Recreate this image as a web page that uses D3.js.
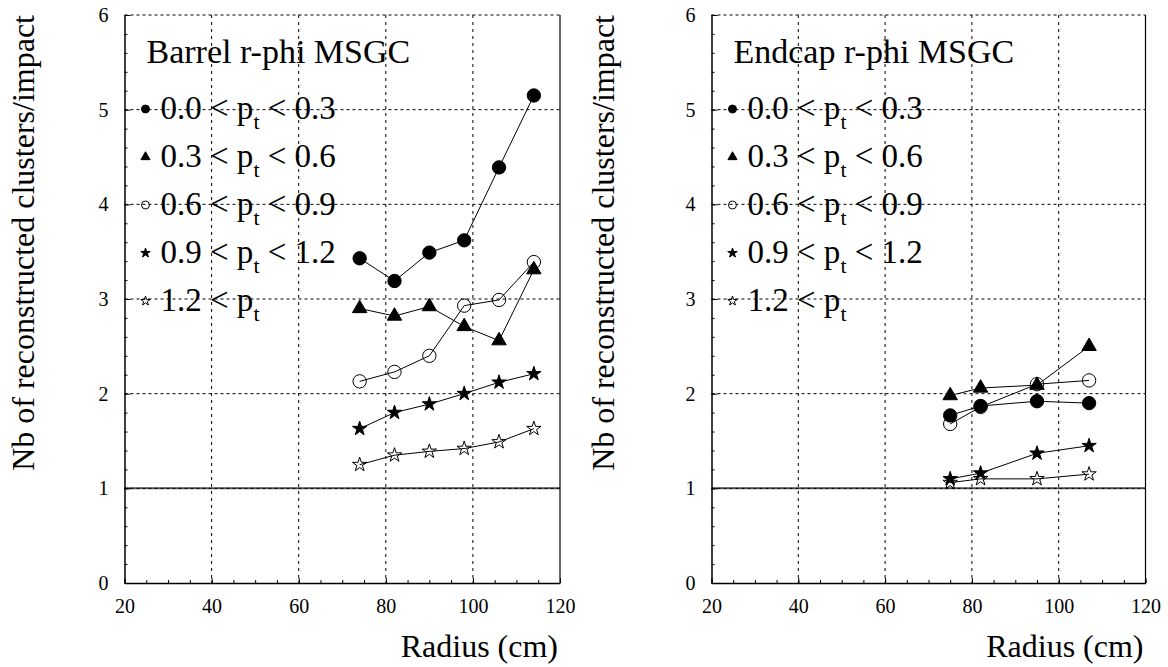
<!DOCTYPE html>
<html>
<head>
<meta charset="utf-8">
<script src="https://cdn.jsdelivr.net/npm/d3@7"></script>
<style>
  body { margin: 0; background: #fff; }
  svg text { font-family: "Liberation Serif", "Times New Roman", serif; fill: #000; }
</style>
</head>
<body>
<script>
const w = 1168; // width
const h = 667;  // height

// data
const radiusBarrel = [74, 82, 90, 98, 106, 114];
const barrelPt00 = [3.43, 3.19, 3.49, 3.62, 4.39, 5.15];
const barrelPt03 = [2.90, 2.82, 2.92, 2.71, 2.56, 3.31];
const barrelPt06 = [2.13, 2.23, 2.40, 2.93, 2.99, 3.39];
const barrelPt09 = [1.63, 1.80, 1.89, 2.00, 2.12, 2.21];
const barrelPt12 = [1.25, 1.35, 1.39, 1.42, 1.49, 1.63];

const radiusEndcap = [75, 82, 95, 107];
const endcapPt00 = [1.77, 1.87, 1.92, 1.90];
const endcapPt03 = [1.98, 2.06, 2.09, 2.50];
const endcapPt06 = [1.68, 1.86, 2.10, 2.14];
const endcapPt09 = [1.10, 1.16, 1.37, 1.45];
const endcapPt12 = [1.06, 1.10, 1.10, 1.15];

const legendLow = ["0.0", "0.3", "0.6", "0.9", "1.2"];
const legendHigh = ["0.3", "0.6", "0.9", "1.2", null];
const xTicks = [20, 40, 60, 80, 100, 120];
const yTicks = [0, 1, 2, 3, 4, 5, 6];

// marker look per series
const markers = [
    {type: d3.symbolCircle, size: 140, legend: 50, fill: "#000"},
    {type: d3.symbolTriangle, size: 90, legend: 36, fill: "#000"},
    {type: d3.symbolCircle, size: 140, legend: 50, fill: "none"},
    {type: d3.symbolStar, size: 64, legend: 28, fill: "#000"},
    {type: d3.symbolStar, size: 64, legend: 28, fill: "none"}
];

const serif = '"Liberation Serif", "Times New Roman", serif';
const yTop = 15, yBottom = 583;

let svg = d3.select("body")
    .append("svg")
    .attr("width", w)
    .attr("height", h);

svg.append("rect").attr("width", w).attr("height", h).attr("fill", "#fff");

function drawPanel(left, right, title, radius, series, yTitleX) {
    let x = d3.scaleLinear().domain([20, 120]).range([left, right]);
    let y = d3.scaleLinear().domain([0, 6]).range([yBottom, yTop]);
    let g = svg.append("g").attr("font-family", serif);

    // grid, vertical dotted
    g.selectAll(".vgrid")
        .data(xTicks.slice(1, -1))
        .enter().append("line")
        .attr("x1", d => x(d)).attr("x2", d => x(d))
        .attr("y1", yTop).attr("y2", yBottom)
        .attr("stroke", "#000").attr("stroke-width", 1)
        .attr("stroke-dasharray", "3,4");

    // line at 1
    g.append("line")
        .attr("x1", left).attr("x2", right)
        .attr("y1", y(1)).attr("y2", y(1))
        .attr("stroke", "#555").attr("stroke-width", 2);

    // grid, horizontal dashed
    g.selectAll(".hgrid")
        .data(yTicks.slice(1))
        .enter().append("line")
        .attr("x1", left).attr("x2", right)
        .attr("y1", d => y(d)).attr("y2", d => y(d))
        .attr("stroke", "#000").attr("stroke-width", 1)
        .attr("stroke-dasharray", "3,3");

    // right border
    g.append("line")
        .attr("x1", right).attr("x2", right)
        .attr("y1", yTop).attr("y2", yBottom)
        .attr("stroke", "#000").attr("stroke-width", 1.2);

    // x axis, minor ticks
    g.append("g")
        .attr("transform", `translate(0,${yBottom})`)
        .call(d3.axisBottom(x).tickValues(d3.range(20, 121, 5)).tickSize(-3).tickFormat(""))
        .call(a => a.select(".domain").remove());
    // x axis, major
    g.append("g")
        .attr("transform", `translate(0,${yBottom})`)
        .call(d3.axisBottom(x).tickValues(xTicks).tickFormat(d3.format("d"))
            .tickSize(-5).tickSizeOuter(0).tickPadding(16))
        .attr("font-family", serif)
        .attr("font-size", 20)
        .call(a => a.select(".domain").attr("stroke-width", 1.5));

    // y axis, minor ticks
    g.append("g")
        .attr("transform", `translate(${left},0)`)
        .call(d3.axisLeft(y).tickValues(d3.range(0, 6.01, 0.2)).tickSize(-3).tickFormat(""))
        .call(a => a.select(".domain").remove());
    // y axis, major
    g.append("g")
        .attr("transform", `translate(${left},0)`)
        .call(d3.axisLeft(y).tickValues(yTicks).tickFormat(d3.format("d"))
            .tickSize(-6).tickSizeOuter(0).tickPadding(16))
        .attr("font-family", serif)
        .attr("font-size", 20)
        .call(a => a.select(".domain").attr("stroke-width", 1.5));

    // series
    series.forEach((vals, i) => {
        let pts = radius.map((r, j) => [r, vals[j]]);
        g.append("path")
            .datum(pts)
            .attr("fill", "none")
            .attr("stroke", "#000")
            .attr("stroke-width", 1)
            .attr("d", d3.line().x(d => x(d[0])).y(d => y(d[1])));
        let m = markers[i];
        g.selectAll(null)
            .data(pts)
            .enter().append("path")
            .attr("transform", d => `translate(${x(d[0])},${y(d[1])})`)
            .attr("d", d3.symbol().type(m.type).size(m.size))
            .attr("fill", m.fill)
            .attr("stroke", "#000")
            .attr("stroke-width", 1);
    });

    // title
    g.append("text")
        .attr("x", left + 22)
        .attr("y", 63)
        .attr("font-size", 34)
        .text(title);

    // legend
    legendLow.forEach((lo, i) => {
        let by = 119 + i * 48;
        let m = markers[i];
        g.append("path")
            .attr("transform", `translate(${left + 21},${by - 10})`)
            .attr("d", d3.symbol().type(m.type).size(m.legend))
            .attr("fill", m.fill)
            .attr("stroke", "#000")
            .attr("stroke-width", 1);
        let t = g.append("text")
            .attr("x", left + 36)
            .attr("y", by)
            .attr("font-size", 33);
        t.append("tspan").text(lo + " < p");
        t.append("tspan").attr("font-size", 22).attr("dy", 10).text("t");
        if (legendHigh[i] !== null) {
            t.append("tspan").attr("dy", -10).text(" < " + legendHigh[i]);
        }
    });

    // x axis label
    g.append("text")
        .attr("text-anchor", "end")
        .attr("x", right - 2)
        .attr("y", 657)
        .attr("font-size", 32)
        .text("Radius (cm)");

    // y axis label
    g.append("text")
        .attr("text-anchor", "end")
        .attr("transform", `translate(${yTitleX},${yTop}) rotate(-90)`)
        .attr("font-size", 32)
        .text("Nb of reconstructed clusters/impact");
}

drawPanel(124.5, 560, "Barrel r-phi MSGC", radiusBarrel,
    [barrelPt00, barrelPt03, barrelPt06, barrelPt09, barrelPt12], 34);
drawPanel(711.5, 1145.5, "Endcap r-phi MSGC", radiusEndcap,
    [endcapPt00, endcapPt03, endcapPt06, endcapPt09, endcapPt12], 614);
</script>
</body>
</html>
